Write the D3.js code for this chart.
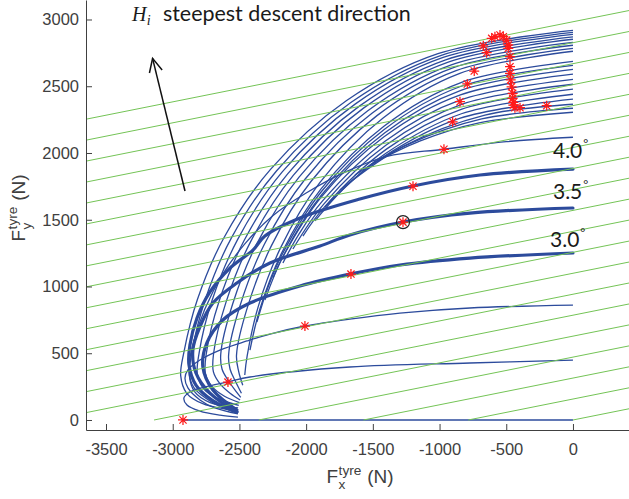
<!DOCTYPE html>
<html><head><meta charset="utf-8">
<script src="https://d3js.org/d3.v7.min.js"></script>
<style>body{margin:0;background:#fff} svg{display:block}</style>
</head><body><svg id="c" width="629" height="499"></svg>
<script>
// ---------- data ----------
const xTicks = [-3500,-3000,-2500,-2000,-1500,-1000,-500,0];
const yTicks = [0,500,1000,1500,2000,2500,3000];
// Hamiltonian level lines: Fy = slope*Fx + offset
const levelSlope = 0.2;
const levelOffsets = [0,157,314,471,628,785,942,1099,1256,1413,1570,1727,1884,2041,2198,2355,2512,2669,2826,2983];

const curve30 = [[0,1251],[-772,1213],[-1297,1161],[-1664,1094],[-2046,1004],[-2421,876],[-2624,749],[-2744,577],[-2774,397],[-2699,225],[-2519,75]];
const curve35 = [[0,1588],[-772,1550],[-1274,1483],[-1672,1386],[-1896,1303],[-2271,1176],[-2519,1026],[-2699,876],[-2796,697],[-2849,524],[-2826,352],[-2721,202],[-2519,60]];
const curve40 = [[0,1879],[-697,1835],[-1199,1753],[-1597,1655],[-2046,1513],[-2309,1378],[-2399,1273],[-2571,1138],[-2721,959],[-2818,764],[-2871,562],[-2878,412],[-2826,262],[-2706,150],[-2519,60]];
const thickCurves = [curve30, curve35, curve40];

const thinCurves = [
  [[-2923,0],[0,0]],
  [[0,449],[-772,427],[-1672,397],[-2421,322],[-2586,285],[-2759,247],[-2871,210],[-2916,165],[-2893,112],[-2796,67],[-2646,37],[-2511,22]],
  [[0,861],[-772,839],[-1297,801],[-1672,756],[-2009,704],[-2271,644],[-2444,592],[-2646,524],[-2796,449],[-2886,375],[-2908,315],[-2886,240],[-2796,150],[-2684,90],[-2511,45]],
  [[0,2118],[-500,2085],[-967,2028],[-1394,1975],[-1700,1860],[-2000,1700],[-2250,1530],[-2450,1330],[-2620,1100],[-2760,830],[-2850,560],[-2880,380],[-2840,240],[-2700,130],[-2515,50]],
  [[0,2919],[-1012,2744],[-1699,2391],[-2267,1877],[-2614,1369],[-2815,902],[-2916,508],[-2940,330],[-2895,200],[-2770,120],[-2520,70]],
  [[0,2904],[-992,2730],[-1665,2378],[-2221,1867],[-2561,1362],[-2758,897],[-2857,505],[-2875,330],[-2835,210],[-2720,130],[-2510,90]],
  [[0,2889],[-973,2716],[-1633,2366],[-2179,1858],[-2512,1355],[-2706,893],[-2802,503],[-2815,340],[-2765,230],[-2660,160],[-2505,110]],
  [[0,2870],[-954,2698],[-1601,2351],[-2137,1845],[-2464,1346],[-2653,887],[-2748,499],[-2755,350],[-2705,250],[-2615,180],[-2500,130]],
  [[0,2852],[-935,2681],[-1570,2336],[-2095,1834],[-2415,1338],[-2601,881],[-2694,496],[-2695,360],[-2645,270],[-2570,200],[-2495,150]],
  [[0,2829],[-917,2659],[-1538,2317],[-2053,1819],[-2366,1327],[-2549,874],[-2640,492],[-2630,380],[-2580,290],[-2530,220],[-2490,170]],
  [[0,2807],[-896,2639],[-1504,2299],[-2007,1805],[-2313,1317],[-2492,867],[-2581,488],[-2570,380],[-2530,290],[-2485,200]],
  [[0,2784],[-876,2617],[-1469,2280],[-1961,1790],[-2260,1306],[-2435,860],[-2522,484],[-2505,360],[-2475,260]],
  [[0,2762],[-848,2596],[-1423,2262],[-1899,1776],[-2189,1295],[-2358,853],[-2442,481],[-2460,337]],
  [[0,2687],[-844,2526],[-1417,2201],[-1891,1728],[-2179,1260],[-2347,830],[-2421,524]],
  [[0,2657],[-843,2498],[-1415,2176],[-1888,1708],[-2177,1246],[-2285,996],[-2369,734]],
  [[0,2627],[-840,2469],[-1410,2152],[-1882,1689],[-2170,1232],[-2309,899]],
  [[0,2590],[-844,2435],[-1416,2121],[-1890,1665],[-2178,1215],[-2249,1064]],
  [[0,2552],[-838,2399],[-1406,2090],[-1877,1641],[-2055,1391],[-2174,1176]],
  [[0,2515],[-834,2364],[-1400,2060],[-1868,1617],[-2099,1281]],
  [[0,2478],[-833,2329],[-1398,2029],[-1865,1593],[-2024,1378]],
  [[0,2440],[-836,2294],[-1402,1998],[-1727,1725],[-1934,1491]],
  [[0,2403],[-850,2259],[-1427,1968],[-1663,1785],[-1859,1595]],
  [[0,2365],[-660,2284],[-1275,2048],[-1747,1723]],
  [[0,2335],[-684,2255],[-1240,2062],[-1634,1835]],
  [[0,2305],[-704,2226],[-1149,2089],[-1522,1910]]
];

const starPoints = [
  [-672,2803],[-647,2751],[-609,2859],[-585,2871],[-547,2884],[-522,2871],[-497,2846],
  [-485,2809],[-485,2784],[-472,2721],[-472,2646],[-472,2597],[-467,2547],[-460,2496],
  [-452,2447],[-452,2410],[-447,2380],[-447,2359],[-435,2339],[-397,2339],[-197,2354],
  [-740,2614],[-792,2517],[-847,2384],[-902,2234],[-967,2028],[-1199,1751],
  [-1664,1093],[-2009,704],[-2586,284],[-2923,0],[-1274,1482]
];
const circledPoint = [-1274,1482];

const angleLabels = ["3.0","3.5","4.0"];
const angleLabelAnchors = [[-172,1296],[-150,1655],[-150,1962]];
const arrowFrom = [-2908,1715], arrowTo = [-3151,2709];
const titleAnchor = [-3306,2991];

// ---------- drawing ----------
const blue = "#2c4b9c", green = "#74c456", axisCol = "#404040";
const xScale = d3.scaleLinear().domain([-3650, 420]).range([86, 629]);
const yScale = d3.scaleLinear().domain([-75, 3146]).range([430, 0]);
const svg = d3.select("#c");
svg.append("defs").append("clipPath").attr("id","pc").append("rect")
  .attr("x",86).attr("y",0).attr("width",543).attr("height",430);
const plot = svg.append("g").attr("clip-path","url(#pc)");

const smooth = d3.line().x(d=>xScale(d[0])).y(d=>yScale(d[1])).curve(d3.curveCatmullRom.alpha(0.5));
const straight = d3.line().x(d=>xScale(d[0])).y(d=>yScale(d[1]));

plot.append("g").selectAll("path").data(thinCurves).join("path")
  .attr("d", smooth).attr("fill","none").attr("stroke",blue).attr("stroke-width",1.3);
plot.append("g").selectAll("path").data(thickCurves).join("path")
  .attr("d", smooth).attr("fill","none").attr("stroke",blue).attr("stroke-width",3.2).attr("stroke-linecap","round");

const [xd0, xd1] = xScale.domain();
plot.append("g").selectAll("path").data(levelOffsets).join("path")
  .attr("d", c => { const a = Math.max(-c/levelSlope, xd0); return straight([[a, levelSlope*a + c],[xd1, levelSlope*xd1 + c]]); })
  .attr("fill","none").attr("stroke",green).attr("stroke-width",1);

const starPath = "M-5,0H5M0,-5V5M-3.6,-3.6L3.6,3.6M-3.6,3.6L3.6,-3.6";
plot.append("g").selectAll("path").data(starPoints).join("path")
  .attr("transform", d => `translate(${xScale(d[0])},${yScale(d[1])})`)
  .attr("d", starPath).attr("fill","none").attr("stroke","#ff1a1a").attr("stroke-width",1.25);
plot.append("circle").attr("cx", xScale(circledPoint[0])).attr("cy", yScale(circledPoint[1]))
  .attr("r", 6.5).attr("fill","none").attr("stroke","#222").attr("stroke-width",1.2);

// axes
const fontAx = "'Liberation Sans', Arial, sans-serif";
const xAxis = d3.axisBottom(xScale).tickValues(xTicks).tickSizeInner(-6).tickSizeOuter(0).tickPadding(13).tickFormat(d => String(d));
const yAxis = d3.axisLeft(yScale).tickValues(yTicks).tickSizeInner(-6).tickSizeOuter(0).tickPadding(7).tickFormat(d => String(d));
const gx = svg.append("g").attr("transform","translate(0,430)").call(xAxis);
const gy = svg.append("g").attr("transform","translate(86,0)").call(yAxis);
[gx, gy].forEach(g => {
  g.attr("font-size", null).attr("font-family", null);
  g.selectAll("path,line").attr("stroke", axisCol).attr("stroke-width", 1);
  g.selectAll("text").attr("fill", axisCol).style("font-family", fontAx).style("font-size","16.5px");
});

// axis titles with sub/superscripts
function subSupLabel(g, base, sup, sub, rest, fs) {
  const t1 = g.append("text").text(base).style("font-family",fontAx).style("font-size",fs+"px").attr("fill",axisCol);
  const w1 = t1.node().getComputedTextLength();
  const sfs = fs*0.72;
  const t2 = g.append("text").text(sup).attr("x", w1+0.5).attr("y", -fs*0.42).style("font-family",fontAx).style("font-size",sfs+"px").attr("fill",axisCol);
  g.append("text").text(sub).attr("x", w1+0.5).attr("y", fs*0.3).style("font-family",fontAx).style("font-size",sfs+"px").attr("fill",axisCol);
  const w2 = t2.node().getComputedTextLength();
  const t4 = g.append("text").text(rest).attr("x", w1+w2+1).style("font-family",fontAx).style("font-size",fs+"px").attr("fill",axisCol);
  const total = w1 + w2 + 1 + t4.node().getComputedTextLength();
  g.selectAll("text").attr("transform", `translate(${-total/2},0)`);
}
subSupLabel(svg.append("g").attr("transform","translate(360,483)"), "F", "tyre", "x", "\u00a0(N)", 19);
subSupLabel(svg.append("g").attr("transform","translate(25,208) rotate(-90)"), "F", "tyre", "y", "\u00a0(N)", 19);

// angle labels
angleLabels.forEach((s, i) => {
  const p = angleLabelAnchors[i];
  const t = svg.append("text").attr("x", xScale(p[0])).attr("y", yScale(p[1]))
    .style("font-family","Lato, 'Open Sans', sans-serif").style("font-size","21px").attr("fill","#1a1a1a");
  t.append("tspan").text(s);
  t.append("tspan").text("\u00b0").attr("dx", 1).attr("dy", -10).style("font-size","12px");
});

// arrow
const ax0 = xScale(arrowFrom[0]), ay0 = yScale(arrowFrom[1]), ax1 = xScale(arrowTo[0]), ay1 = yScale(arrowTo[1]);
svg.append("line").attr("x1",ax0).attr("y1",ay0).attr("x2",ax1).attr("y2",ay1).attr("stroke","#111").attr("stroke-width",1.5);
const ang = Math.atan2(ay0-ay1, ax0-ax1), hl = 15, ha = 0.45;
svg.append("path").attr("d", `M${ax1+hl*Math.cos(ang-ha)},${ay1+hl*Math.sin(ang-ha)}L${ax1},${ay1}L${ax1+hl*Math.cos(ang+ha)},${ay1+hl*Math.sin(ang+ha)}`)
  .attr("fill","none").attr("stroke","#111").attr("stroke-width",1.5);

// title annotation
const tg = svg.append("g").attr("transform", `translate(${xScale(titleAnchor[0])},${yScale(titleAnchor[1])})`);
const th = tg.append("text").text("H").style("font-family","'Liberation Serif', 'DejaVu Serif', serif").style("font-style","italic").style("font-size","20px").attr("fill","#1a1a1a");
const wH = th.node().getComputedTextLength();
tg.append("text").text("i").attr("x", wH+0.5).attr("y", 4).style("font-family","'Liberation Serif', serif").style("font-style","italic").style("font-size","14px").attr("fill","#1a1a1a");
const td = tg.append("text").text("steepest descent direction").attr("x", 31)
  .style("font-family","Lato, 'Open Sans', sans-serif").style("font-size","19px").attr("fill","#1a1a1a");
const wd = td.node().getComputedTextLength();
td.style("font-size", (19*248/wd).toFixed(2)+"px");
</script></body></html>
